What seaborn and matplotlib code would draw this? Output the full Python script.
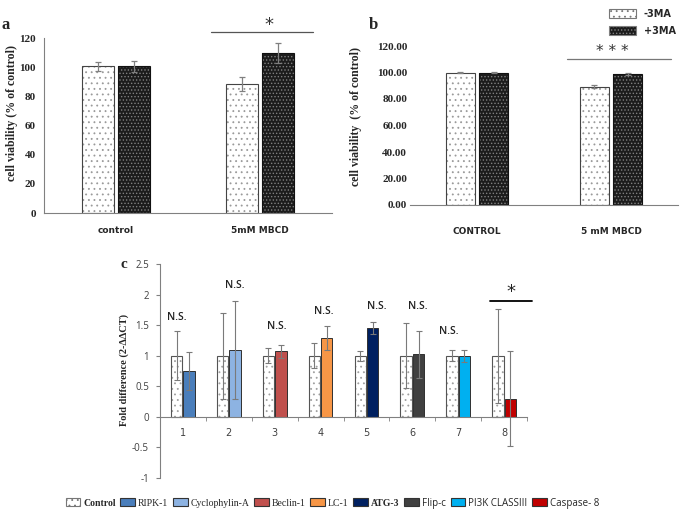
import matplotlib
matplotlib.use('Agg')
import matplotlib.pyplot as plt
from matplotlib.patches import Rectangle, Patch
import seaborn as sns
import numpy as np
import pandas as pd

# panel a
a_groups = ['control', '5mM MBCD']
a_minus = [100.5, 88.3]
a_minus_err = [3.0, 4.7]
a_plus = [100.5, 110.0]
a_plus_err = [3.6, 6.8]

# panel b
b_groups = ['CONTROL', '5 mM MBCD']
b_minus = [100.0, 89.3]
b_minus_err = [0.3, 1.2]
b_plus = [100.0, 98.7]
b_plus_err = [0.3, 0.9]

treat = ['-3MA', '+3MA']

# panel c
c_pos = ['1', '2', '3', '4', '5', '6', '7', '8']
c_genes = ['RIPK-1', 'Cyclophylin-A', 'Beclin-1', 'LC-1', 'ATG-3', 'Flip-c', 'PI3K CLASSIII', 'Caspase- 8']
c_ctrl = [1.0, 1.0, 1.0, 1.0, 1.0, 1.0, 1.0, 1.0]
c_ctrl_err = [0.4, 0.7, 0.12, 0.2, 0.08, 0.53, 0.09, 0.77]
c_gene = [0.75, 1.1, 1.07, 1.29, 1.45, 1.02, 1.0, 0.3]
c_gene_err = [0.31, 0.8, 0.11, 0.19, 0.1, 0.38, 0.1, 0.78]
c_colors = ['#4a7ebb', '#8db3e2', '#c0504d', '#f79646', '#002060', '#404040', '#00b0f0', '#c00000']
c_sig = ['N.S.', 'N.S.', 'N.S.', 'N.S.', 'N.S.', 'N.S.', 'N.S.', '*']
# where the significance labels sit (x offset from category, height)
sig_dx = [-0.14, 0.12, 0.04, 0.08, 0.22, 0.12, -0.2, 0.15]
sig_y = [1.63, 2.15, 1.47, 1.73, 1.81, 1.81, 1.39, 2.05]

sns.set_style('white')
SERIF = ['Liberation Serif', 'DejaVu Serif']
SANS = ['DejaVu Sans']
CAL = ['Open Sans', 'DejaVu Sans']
plt.rcParams['hatch.linewidth'] = 0.6

DARK = '#1c1c1c'


def dotted(ax, patches, dot, outline, hatch):
    for p in patches:
        ax.add_patch(Rectangle(p.get_xy(), p.get_width(), p.get_height(), fill=False,
                               edgecolor=outline, lw=0.8, zorder=1.5))
        p.set_hatch(hatch)
        p.set_edgecolor(dot)
        p.set_linewidth(0)


def viability_panel(ax, groups, minus, minus_err, plus, plus_err):
    df = pd.DataFrame({'group': groups * 2,
                       'treat': [treat[0]] * 2 + [treat[1]] * 2,
                       'value': minus + plus})
    sns.barplot(data=df, x='group', y='value', hue='treat', order=groups, hue_order=treat,
                palette=['white', DARK], width=0.5, gap=0.12, errorbar=None,
                legend=False, ax=ax)
    for cont, errs in zip(ax.containers, [minus_err, plus_err]):
        xs = [p.get_x() + p.get_width() / 2 for p in cont]
        hs = [p.get_height() for p in cont]
        ax.errorbar(xs, hs, yerr=errs, fmt='none', ecolor='#808080', elinewidth=0.9,
                    capsize=2.5, capthick=0.9, zorder=3)
    dotted(ax, ax.containers[0], '#9a9a9a', '#444444', '...')
    dotted(ax, ax.containers[1], '#808080', '#111111', '.....')
    ax.set_xlim(-0.5, 1.5)
    ax.set_ylim(0, 120)
    ax.set_xlabel('')
    ax.set_ylabel('')
    for s in ['top', 'right']:
        ax.spines[s].set_visible(False)
    ax.tick_params(length=0)
    for t in ax.get_xticklabels():
        t.set_fontfamily(SANS)
        t.set_fontweight('bold')
        t.set_fontsize(6.5)


fig = plt.figure(figsize=(6.85, 5.16), dpi=100)

# ---- a
ax_a = fig.add_axes([44 / 685, 1 - 213 / 516, 288 / 685, 175 / 516])
viability_panel(ax_a, a_groups, a_minus, a_minus_err, a_plus, a_plus_err)
ax_a.set_yticks(np.arange(0, 121, 20))
ax_a.set_yticklabels([str(v) for v in range(0, 121, 20)], fontfamily=SERIF, fontweight='bold', fontsize=8)
ax_a.tick_params(axis='y', pad=6)
ax_a.tick_params(axis='x', pad=9)
for s in ['left', 'bottom']:
    ax_a.spines[s].set_color('#808080')
ax_a.plot([0.66, 1.37], [124, 124], color='#555555', lw=0.9, clip_on=False)
ax_a.text(1.06, 129, '*', ha='center', va='center', fontsize=13, color='#333333', clip_on=False)

# ---- b
ax_b = fig.add_axes([410 / 685, 1 - 205 / 516, 268 / 685, 159 / 516])
viability_panel(ax_b, b_groups, b_minus, b_minus_err, b_plus, b_plus_err)
ax_b.set_yticks(np.arange(0, 121, 20))
ax_b.set_yticklabels(['%.2f' % v for v in range(0, 121, 20)], fontfamily=SERIF, fontweight='bold', fontsize=8)
ax_b.spines['left'].set_visible(False)
ax_b.spines['bottom'].set_color('#808080')
ax_b.tick_params(axis='y', pad=2)
ax_b.tick_params(axis='x', pad=16)
ax_b.plot([0.67, 1.45], [110.5, 110.5], color='#777777', lw=0.9, clip_on=False)
ax_b.text(1.01, 110.5, '* * *', ha='center', va='bottom', fontsize=11, color='#333333', clip_on=False)

fig.legend(handles=[Patch(facecolor='white', edgecolor='#777777', hatch='...', lw=0.8),
                    Patch(facecolor=DARK, edgecolor='#808080', hatch='.....', lw=0.8)],
           labels=treat, loc='upper left', bbox_to_anchor=(600 / 685, 1.0), frameon=False,
           handlelength=2.8, handleheight=1.0, labelspacing=0.75, handletextpad=0.8,
           prop={'family': SANS, 'weight': 'bold', 'size': 7})

# ---- c
ax_c = fig.add_axes([160 / 685, 38 / 516, 367 / 685, 214 / 516])
dfc = pd.DataFrame({'pos': c_pos * 2,
                    'kind': ['Control'] * 8 + ['Gene'] * 8,
                    'value': c_ctrl + c_gene})
sns.barplot(data=dfc, x='pos', y='value', hue='kind', order=c_pos,
            palette=['white', c_colors[0]], width=0.54, gap=0.08, errorbar=None,
            legend=False, ax=ax_c)
for cont, errs in zip(ax_c.containers, [c_ctrl_err, c_gene_err]):
    xs = [p.get_x() + p.get_width() / 2 for p in cont]
    hs = [p.get_height() for p in cont]
    ax_c.errorbar(xs, hs, yerr=errs, fmt='none', ecolor='#7a7a7a', elinewidth=0.8,
                  capsize=2.2, capthick=0.8, zorder=3)
for p, col in zip(ax_c.containers[1], c_colors):
    p.set_facecolor(col)
    p.set_edgecolor('#303030')
    p.set_linewidth(0.7)
dotted(ax_c, ax_c.containers[0], '#a0a0a0', '#555555', '...')

ax_c.set_xlim(-0.5, 7.5)
ax_c.set_ylim(-1, 2.5)
yt = np.arange(-1, 2.51, 0.5)
ax_c.set_yticks(yt)
ax_c.set_yticklabels(['%g' % v for v in yt])
ax_c.set_xticks(range(8))
ax_c.set_xticklabels(c_pos)
ax_c.set_xticks(np.arange(-0.5, 8, 1), minor=True)
ax_c.tick_params(axis='x', which='major', length=0, pad=8, labelsize=7, labelcolor='#404040')
ax_c.tick_params(axis='x', which='minor', length=3, direction='out', color='#808080', bottom=True)
ax_c.tick_params(axis='y', length=3, direction='out', color='#808080', left=True, pad=5,
                 labelsize=7, labelcolor='#404040')
for t in ax_c.get_xticklabels() + ax_c.get_yticklabels():
    t.set_fontfamily(CAL)
ax_c.set_xlabel('')
ax_c.set_ylabel('')
for s in ['top', 'right']:
    ax_c.spines[s].set_visible(False)
ax_c.spines['bottom'].set_position(('data', 0))
for s in ['left', 'bottom']:
    ax_c.spines[s].set_color('#808080')
    ax_c.spines[s].set_linewidth(0.8)

for i, (lab, dx, y) in enumerate(zip(c_sig, sig_dx, sig_y)):
    if lab == '*':
        ax_c.plot([i - 0.31, i + 0.6], [1.9, 1.9], color='black', lw=1.3, clip_on=False)
        ax_c.text(i + dx, y, lab, ha='center', va='center', fontsize=13, color='#222222')
    else:
        ax_c.text(i + dx, y, lab, ha='center', va='center', fontsize=7.5,
                  fontfamily=CAL, fontweight='semibold', color='#222222')

handles = [Patch(facecolor='white', edgecolor='#777777', hatch='...', lw=0.8)]
handles += [Patch(facecolor=c, edgecolor='#333333', lw=0.8) for c in c_colors]
leg = fig.legend(handles=handles, labels=['Control'] + c_genes, loc='center',
                 bbox_to_anchor=(0.485, 0.025), ncol=9, frameon=False, fontsize=7,
                 handlelength=1.5, handleheight=0.9, columnspacing=0.5, handletextpad=0.3)
text_fonts = [(SERIF, 'bold'), (SERIF, 'normal'), (SERIF, 'normal'), (SERIF, 'normal'),
              (SERIF, 'normal'), (SERIF, 'bold'), (CAL, 'normal'), (CAL, 'normal'), (CAL, 'normal')]
for t, (fam, w) in zip(leg.get_texts(), text_fonts):
    t.set_fontfamily(fam)
    t.set_fontweight(w)

# labels
fig.text(6 / 685, 1 - 25 / 516, 'a', fontfamily=SERIF, fontweight='bold', fontsize=12, ha='center', va='center')
fig.text(373 / 685, 1 - 25 / 516, 'b', fontfamily=SERIF, fontweight='bold', fontsize=12, ha='center', va='center')
fig.text(124 / 685, 1 - 265 / 516, 'c', fontfamily=SERIF, fontweight='bold', fontsize=11, ha='center', va='center')
fig.text(12 / 685, 1 - 113 / 516, 'cell viability (% of control)', rotation=90, fontfamily=SERIF,
         fontweight='bold', fontsize=8.5, ha='center', va='center')
fig.text(356 / 685, 1 - 117 / 516, 'cell viability  (% of control)', rotation=90, fontfamily=SERIF,
         fontweight='bold', fontsize=8.5, ha='center', va='center')
fig.text(124 / 685, 1 - 370 / 516, 'Fold difference (2-\u0394\u0394CT)', rotation=90, fontfamily=SERIF,
         fontweight='bold', fontsize=7.5, ha='center', va='center')

fig.savefig('out.png', dpi=100)
